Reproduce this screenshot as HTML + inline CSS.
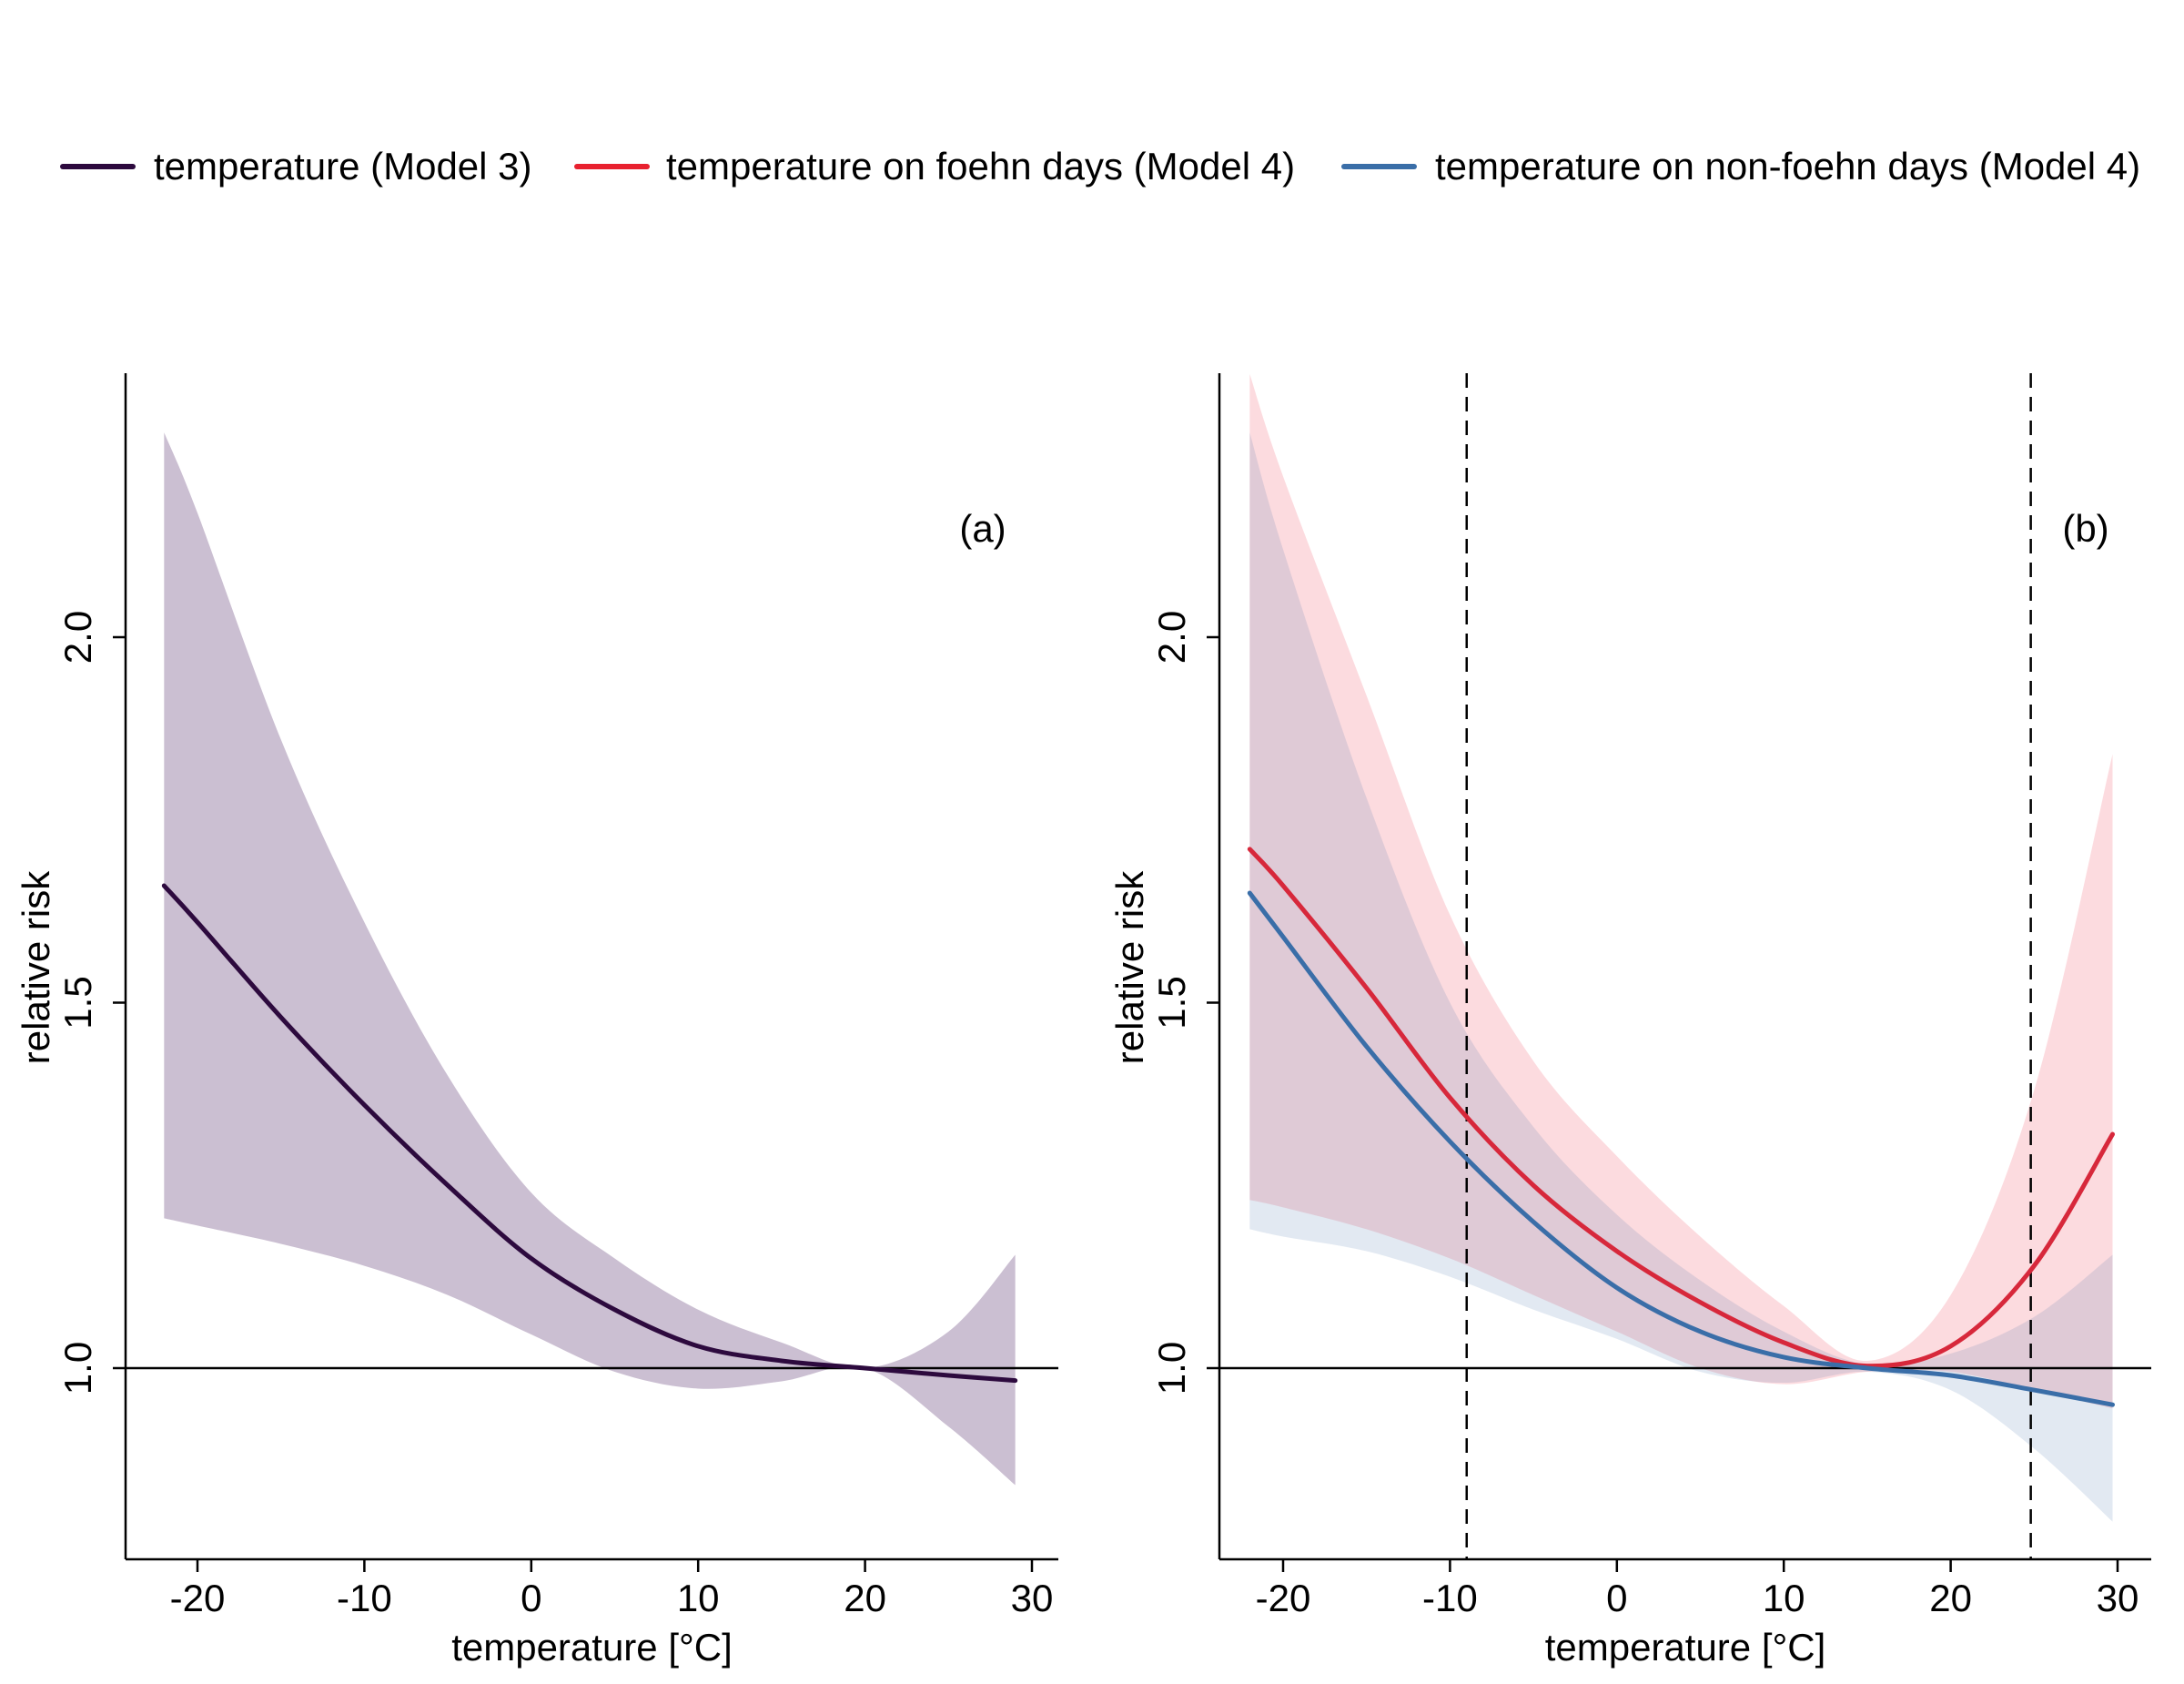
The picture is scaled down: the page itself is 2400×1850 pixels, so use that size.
<!DOCTYPE html>
<html><head><meta charset="utf-8"><style>
html,body{margin:0;padding:0;background:#fff;}
svg{display:block;font-family:"Liberation Sans",Arial,sans-serif;}
</style></head><body>
<svg id="chart" width="2400" height="1850" viewBox="0 0 2400 1850" xmlns="http://www.w3.org/2000/svg">
<g id="legend" font-size="42">
  <g><line x1="69" y1="183" x2="146" y2="183" stroke="#2d0a3e" stroke-width="6" stroke-linecap="round"/><text x="169" y="197">temperature (Model 3)</text></g>
  <g><line x1="634" y1="183" x2="711" y2="183" stroke="#e8212f" stroke-width="6" stroke-linecap="round"/><text x="732" y="197">temperature on foehn days (Model 4)</text></g>
  <g><line x1="1477" y1="183" x2="1554" y2="183" stroke="#3a6ea8" stroke-width="6" stroke-linecap="round"/><text x="1577" y="197">temperature on non-foehn days (Model 4)</text></g>
</g>
<g id="pa"></g>
<g id="pb"></g>
</svg>
<script>
// Panel a data
const tA = [-22,-20,-15,-10,-5,0,5,10,15,20,25,29];
const fitA = [1.66,1.61,1.48,1.36,1.25,1.15,1.08,1.03,1.01,1.0,0.99,0.983];
const upA  = [2.28,2.17,1.86,1.61,1.40,1.24,1.15,1.08,1.035,1.0,1.05,1.155];
const loA  = [1.205,1.195,1.17,1.14,1.10,1.046,0.995,0.972,0.982,1.0,0.92,0.84];
// Panel b data
const tB = [-22,-20,-15,-10,-5,0,5,10,15,20,25,29.7];
const fitRed = [1.71,1.66,1.52,1.37,1.25,1.16,1.09,1.035,1.003,1.03,1.14,1.32];
const upRed  = [2.36,2.22,1.92,1.62,1.42,1.29,1.18,1.085,1.01,1.10,1.38,1.84];
const loRed  = [1.23,1.22,1.19,1.15,1.10,1.05,1.00,0.978,0.995,0.995,0.97,0.945];
const fitBlue = [1.65,1.59,1.44,1.31,1.20,1.11,1.05,1.015,1.0,0.99,0.97,0.95];
const upBlue  = [2.28,2.12,1.78,1.50,1.33,1.21,1.12,1.05,1.005,1.02,1.07,1.155];
const loBlue  = [1.19,1.18,1.16,1.125,1.08,1.04,0.995,0.98,0.995,0.97,0.89,0.79];
const xTicks = [-20,-10,0,10,20,30];
const yTicks = [1.0,1.5,2.0];
const yTickLabels = ["1.0","1.5","2.0"];
const vlines = [-9,24.8];

const NS="http://www.w3.org/2000/svg";
const Y0=1503, YS=803;
const TOP=410, BOT=1713;
const y=v=>Y0-(v-1)*YS;
function mk(p,tag,at){const e=document.createElementNS(NS,tag);for(const k in at)e.setAttribute(k,at[k]);p.appendChild(e);return e;}
function pts(xf,ts,vs){return ts.map((t,i)=>[xf(t),y(vs[i])]);}
function spline(P,start){let d=start?`M${P[0][0]},${P[0][1]}`:`L${P[0][0]},${P[0][1]}`;
 for(let i=0;i<P.length-1;i++){const p0=P[i-1]||P[i],p1=P[i],p2=P[i+1],p3=P[i+2]||P[i+1];
  d+=`C${p1[0]+(p2[0]-p0[0])/6},${p1[1]+(p2[1]-p0[1])/6} ${p2[0]-(p3[0]-p1[0])/6},${p2[1]-(p3[1]-p1[1])/6} ${p2[0]},${p2[1]}`;}
 return d;}
function band(g,xf,ts,up,lo,fill,op,name){
 const a=pts(xf,ts,up), b=pts(xf,ts,lo).reverse();
 const e=mk(g,'path',{d:spline(a,true)+spline(b,false)+'Z',fill:fill,'fill-opacity':op});
 
 
}
function line(g,xf,ts,vs,col,name){
 const e=mk(g,'path',{d:spline(pts(xf,ts,vs),true),fill:'none',stroke:col,'stroke-width':5,'stroke-linecap':'round'});
 
 
}
function axes(g,ax,right,xf,label){
 mk(g,'line',{x1:ax,y1:TOP,x2:ax,y2:BOT,stroke:'#000','stroke-width':2.5});
 mk(g,'line',{x1:ax,y1:BOT,x2:right,y2:BOT,stroke:'#000','stroke-width':2.5});
 xTicks.forEach(t=>{const X=xf(t);mk(g,'line',{x1:X,y1:BOT,x2:X,y2:BOT+14,stroke:'#000','stroke-width':2.5});
  const tx=mk(g,'text',{x:X,y:1770,'font-size':42,'text-anchor':'middle'});tx.textContent=t;
  
  });
 yTicks.forEach((v,i)=>{const Y=y(v);mk(g,'line',{x1:ax-14,y1:Y,x2:ax,y2:Y,stroke:'#000','stroke-width':2.5});
  const tx=mk(g,'text',{x:0,y:0,'font-size':42,'text-anchor':'middle',transform:`translate(${ax-38},${Y}) rotate(-90)`});tx.textContent=yTickLabels[i];
  
  });
 const xt=mk(g,'text',{x:(ax+right)/2,y:1824,'font-size':42,'text-anchor':'middle'});xt.textContent='temperature [°C]';
 
 
 const yt=mk(g,'text',{x:0,y:0,'font-size':42,'text-anchor':'middle',transform:`translate(${ax-84},1063) rotate(-90)`});yt.textContent='relative risk';
 
 
 mk(g,'line',{x1:ax,y1:y(1),x2:right,y2:y(1),stroke:'#000','stroke-width':2.5});
 const pl=mk(g,'text',{x:0,y:595,'font-size':42,'text-anchor':'middle'});
 pl.textContent=label;
 pl.setAttribute('x', label==='(a)'?1080:2292);
 
 
}
// Panel a
const ga=document.getElementById('pa');
const xa=t=>217+(t+20)*18.34;
band(ga,xa,tA,upA,loA,'#cbbfd2',1,'ci-band-model3');
axes(ga,138,1163,xa,'(a)');
line(ga,xa,tA,fitA,'#2d0a3e','curve-model3');
// Panel b
const gb=document.getElementById('pb');
const xb=t=>1410+(t+20)*18.34;
band(gb,xb,tB,upRed,loRed,'#ef3a4c',0.18,'ci-band-foehn');
band(gb,xb,tB,upBlue,loBlue,'#3a6ea8',0.15,'ci-band-non-foehn');
vlines.forEach(v=>{const e=mk(gb,'line',{x1:xb(v),y1:TOP,x2:xb(v),y2:BOT,stroke:'#000','stroke-width':2.5,'stroke-dasharray':'16,10'});
 
 });
axes(gb,1340,2364,xb,'(b)');
line(gb,xb,tB,fitRed,'#d7283b','curve-foehn');
line(gb,xb,tB,fitBlue,'#3a6ea8','curve-non-foehn');
</script>
</body></html>
